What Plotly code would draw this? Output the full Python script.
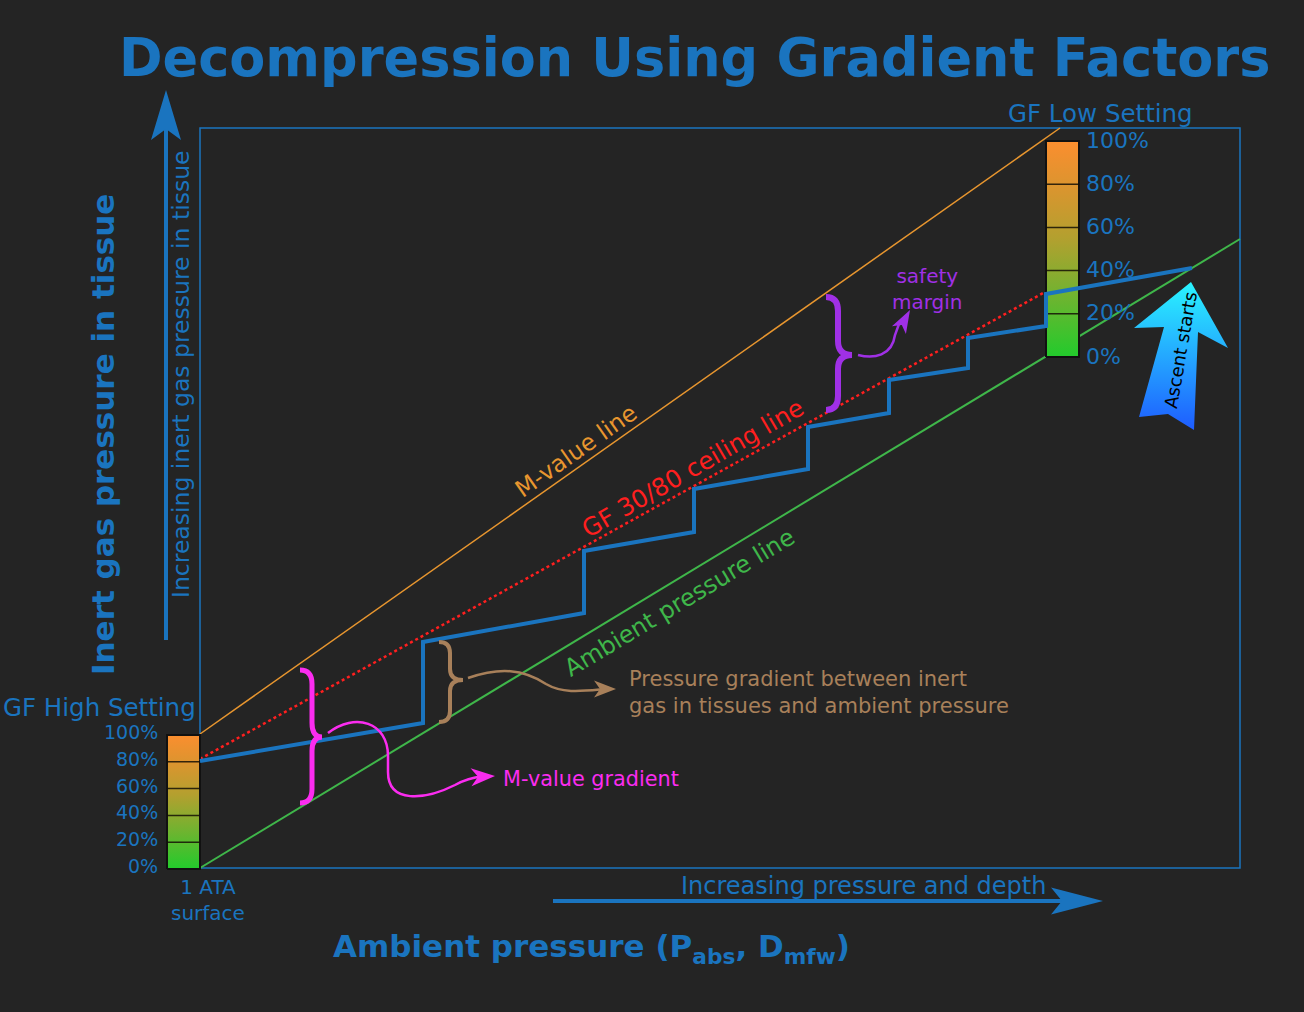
import math
import plotly.graph_objects as go

# ------------------------------------------------------------------
# Data (schematic units: x = ambient pressure, y = inert gas pressure)
# ------------------------------------------------------------------
frame_x = [0, 104]                 # extent of the framed plotting region
frame_y = [0, 74]
ambient_x = [0, 104]               # ambient pressure line
ambient_y = [0, 62.9]
mvalue_x = [0, 86]                 # M-value line
mvalue_y = [13.4, 74]
ceiling_x = [0, 84.5]              # GF 30/80 ceiling line
ceiling_y = [10.9, 57.6]
profile_x = [0, 22.3, 22.3, 38.4, 38.4, 49.4, 49.4, 60.8, 60.8, 68.9, 68.9, 76.8, 76.8, 84.6, 84.6, 99.2]
profile_y = [10.7, 14.5, 22.6, 25.5, 31.7, 33.6, 37.9, 39.9, 44.1, 45.5, 48.8, 50.0, 53.0, 54.2, 57.4, 60.0]
gf_fractions = [0, 0.2, 0.4, 0.6, 0.8, 1.0]
gf_labels = ["0%", "20%", "40%", "60%", "80%", "100%"]
gf_high_x = [-3.3, 0]              # GF high scale at the surface
gf_high_y = [-0.1, 13.3]
gf_low_x = [84.6, 87.9]            # GF low scale at the first stop
gf_low_y = [51.1, 72.7]

# ------------------------------------------------------------------
# Styling
# ------------------------------------------------------------------
BG = "#242424"
BLUE = "#1a74bf"
GREEN = "#3fb64a"
ORANGE = "#e8962f"
RED = "#ff1f1f"
MAGENTA = "#fb2cf0"
PURPLE = "#a030e6"
TAN = "#a8805a"
REG = "DejaVu Sans"
BOLD = "DejaVu Sans"
GF_SCALE = [[0, "#22cb2c"], [0.3, "#74b230"], [0.55, "#b3a02f"], [0.8, "#dd942f"], [1, "#fb8e2f"]]


def P(xp, yp):
    """pixel position in the 1304x1012 picture -> schematic units"""
    return (xp - 200) / 10.0, (868 - yp) / 10.0


def arrowhead(tip, direction, length, half, notch):
    tx, ty = tip
    dx, dy = direction
    n = math.hypot(dx, dy)
    dx, dy = dx / n, dy / n
    px, py = -dy, dx
    bx, by = tx - dx * length, ty - dy * length
    nx, ny = tx - dx * (length - notch), ty - dy * (length - notch)
    return (f"M {tx},{ty} L {bx + px * half},{by + py * half} L {nx},{ny} "
            f"L {bx - px * half},{by - py * half} Z")


def brace(x_end, y_top, y_bot, x_body, x_tip, y_tip, d=1.4):
    return (f"M {x_end},{y_top} Q {x_body},{y_top} {x_body},{y_top - d} "
            f"L {x_body},{y_tip + d} Q {x_body},{y_tip} {x_tip},{y_tip} "
            f"Q {x_body},{y_tip} {x_body},{y_tip - d} "
            f"L {x_body},{y_bot + d} Q {x_body},{y_bot} {x_end},{y_bot}")


fig = go.Figure()

fig.add_trace(go.Scatter(x=ambient_x, y=ambient_y, mode="lines",
                         line=dict(color=GREEN, width=2), hoverinfo="skip"))
fig.add_trace(go.Scatter(x=ceiling_x, y=ceiling_y, mode="lines",
                         line=dict(color=RED, width=2.5, dash="dot"), hoverinfo="skip"))
fig.add_trace(go.Scatter(x=mvalue_x, y=mvalue_y, mode="lines",
                         line=dict(color=ORANGE, width=1.5), hoverinfo="skip"))

# gradient-factor scales
for bx, by in ((gf_high_x, gf_high_y), (gf_low_x, gf_low_y)):
    fig.add_trace(go.Scatter(
        x=[bx[0], bx[1], bx[1], bx[0], bx[0]],
        y=[by[0], by[0], by[1], by[1], by[0]],
        mode="lines", fill="toself",
        fillgradient=dict(type="vertical", colorscale=GF_SCALE),
        line=dict(color="#111111", width=2), hoverinfo="skip"))
    dxs, dys = [], []
    for f in gf_fractions[1:-1]:
        yv = by[0] + f * (by[1] - by[0])
        dxs += [bx[0], bx[1], None]
        dys += [yv, yv, None]
    fig.add_trace(go.Scatter(x=dxs, y=dys, mode="lines",
                             line=dict(color="rgba(20,15,5,0.85)", width=1.5),
                             hoverinfo="skip"))

fig.add_trace(go.Scatter(x=profile_x, y=profile_y, mode="lines",
                         line=dict(color=BLUE, width=4), hoverinfo="skip"))

# ascent arrow
asc = [P(1191, 282), P(1228, 348), P(1198, 332), P(1194, 430), P(1168, 414),
       P(1139, 417), P(1164, 327), P(1134, 328), P(1191, 282)]
fig.add_trace(go.Scatter(x=[p[0] for p in asc], y=[p[1] for p in asc],
                         mode="lines", fill="toself",
                         fillgradient=dict(type="vertical",
                                           colorscale=[[0, "#1e5cff"], [1, "#2af4ff"]]),
                         line=dict(width=0, color="rgba(0,0,0,0)"), hoverinfo="skip"))

shapes = []
# frame
shapes.append(dict(type="rect", x0=frame_x[0], x1=frame_x[1], y0=frame_y[0], y1=frame_y[1],
                   line=dict(color=BLUE, width=1.5), layer="below"))
# y direction arrow
a0, a1 = P(166, 640), P(166, 125)
shapes.append(dict(type="line", x0=a0[0], y0=a0[1], x1=a1[0], y1=a1[1],
                   line=dict(color=BLUE, width=4)))
shapes.append(dict(type="path", path=arrowhead(P(166, 90), (0, 1), 5.0, 1.5, 1.1),
                   fillcolor=BLUE, line=dict(width=0)))
# x direction arrow
b0, b1 = P(553, 901), P(1070, 901)
shapes.append(dict(type="line", x0=b0[0], y0=b0[1], x1=b1[0], y1=b1[1],
                   line=dict(color=BLUE, width=4)))
shapes.append(dict(type="path", path=arrowhead(P(1103, 901), (1, 0), 5.2, 1.35, 1.1),
                   fillcolor=BLUE, line=dict(width=0)))

# braces
shapes.append(dict(type="path", path=brace(10.0, 19.8, 6.5, 11.2, 12.2, 13.1),
                   line=dict(color=MAGENTA, width=5), layer="above"))
shapes.append(dict(type="path", path=brace(23.9, 22.6, 14.6, 25.0, 26.3, 18.8, d=1.1),
                   line=dict(color=TAN, width=4), layer="above"))
shapes.append(dict(type="path", path=brace(62.6, 57.1, 45.8, 63.8, 65.2, 51.3),
                   line=dict(color=PURPLE, width=6), layer="above"))

# curved pointers
shapes.append(dict(type="path",
                   path="M 12.8,13.5 C 15.5,15.6 18.8,14.6 18.8,11.2 L 18.8,9.6 "
                        "C 18.8,6.4 22.5,6.8 25.5,8.3 C 26.6,8.9 27.6,9.1 28.2,9.15",
                   line=dict(color=MAGENTA, width=2.5), layer="above"))
shapes.append(dict(type="path", path=arrowhead(P(495, 776), (1, 0.05), 2.4, 0.9, 0.7),
                   fillcolor=MAGENTA, line=dict(width=0), layer="above"))
shapes.append(dict(type="path",
                   path="M 26.8,19.0 C 30.0,20.1 32.3,19.9 34.6,18.4 "
                        "C 36.3,17.4 38.3,17.7 40.6,17.9",
                   line=dict(color=TAN, width=2.5), layer="above"))
shapes.append(dict(type="path", path=arrowhead(P(616, 689), (1, 0), 2.2, 0.85, 0.6),
                   fillcolor=TAN, line=dict(width=0), layer="above"))
shapes.append(dict(type="path",
                   path="M 65.8,51.3 C 67.4,50.9 69.2,51.2 69.5,53.3 L 69.9,54.4",
                   line=dict(color=PURPLE, width=2.5), layer="above"))
shapes.append(dict(type="path", path=arrowhead(P(910, 310), (0.55, 1), 2.3, 0.8, 0.6),
                   fillcolor=PURPLE, line=dict(width=0), layer="above"))

annotations = []


def txt(text, pos, size, color, family=REG, weight=400, angle=0, xanchor="center",
        yanchor="middle", align="center"):
    x, y = P(*pos)
    annotations.append(dict(text=text, x=x, y=y, xref="x", yref="y", showarrow=False,
                            textangle=angle, xanchor=xanchor, yanchor=yanchor,
                            align=align,
                            font=dict(family=family, size=size, color=color, weight=weight)))


txt("Decompression Using Gradient Factors", (694, 57), 52.5, BLUE, BOLD, 700)
txt("Inert gas pressure in tissue", (103, 435), 31, BLUE, BOLD, 700, angle=-90)
txt("Increasing inert gas pressure in tissue", (181, 374), 23.5, BLUE, angle=-90)
txt("Ambient pressure (P<sub>abs</sub>, D<sub>mfw</sub>)", (591, 948), 31, BLUE, BOLD, 700)
txt("Increasing pressure and depth", (863, 886), 24, BLUE)
txt("1 ATA<br>surface", (208, 900), 20, BLUE)
txt("GF High Setting", (99, 707), 24.5, BLUE)
txt("GF Low Setting", (1100, 113), 24.5, BLUE)

for f, lab in zip(gf_fractions, gf_labels):
    yh = gf_high_y[0] + f * (gf_high_y[1] - gf_high_y[0])
    annotations.append(dict(text=lab, x=-4.0, y=yh, xref="x", yref="y", showarrow=False,
                            xanchor="right", yanchor="middle", yshift=3,
                            font=dict(family=REG, size=19, color=BLUE)))
    yl = gf_low_y[0] + f * (gf_low_y[1] - gf_low_y[0])
    annotations.append(dict(text=lab, x=88.4, y=yl, xref="x", yref="y", showarrow=False,
                            xanchor="left", yanchor="middle", yshift=1,
                            font=dict(family=REG, size=22, color=BLUE)))

txt("M-value line", (576, 451), 23.5, ORANGE, angle=-35)
txt("GF 30/80 ceiling line", (692, 468), 24.5, RED, angle=-30)
txt("Ambient pressure line", (679, 603), 24, GREEN, angle=-31)
txt("safety<br>margin", (927, 289), 20, PURPLE)
txt("Pressure gradient between inert<br>gas in tissues and ambient pressure", (627, 692), 21,
    TAN, xanchor="left", align="left")
txt("M-value gradient", (501, 779), 20.8, MAGENTA, xanchor="left")
txt("Ascent starts", (1180, 350), 18, "#000000", angle=-80)

fig.update_layout(
    width=1304, height=1012,
    margin=dict(l=0, r=0, t=0, b=0),
    paper_bgcolor=BG, plot_bgcolor=BG,
    showlegend=False,
    xaxis=dict(range=[-20, 110.4], visible=False, fixedrange=True),
    yaxis=dict(range=[-14.4, 86.8], visible=False, fixedrange=True),
    shapes=shapes,
    annotations=annotations,
)

fig.write_html("out.html", config={"displayModeBar": False},
               post_script="document.body.style.margin='0';document.body.style.background='#242424';")
